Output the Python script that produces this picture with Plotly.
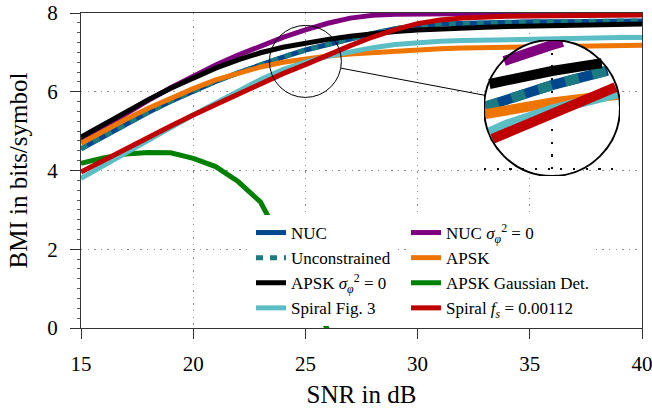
import numpy as np
import plotly.graph_objects as go

# ---------------- data ----------------
snr = list(range(15, 41))
nuc = [4.55, 4.87, 5.18, 5.48, 5.76, 6.02, 6.26, 6.48, 6.69, 6.88, 7.06, 7.21, 7.35,
       7.48, 7.60, 7.68, 7.72, 7.74, 7.755, 7.765, 7.775, 7.78, 7.785, 7.79, 7.795, 7.80]
unconstrained = list(nuc)
nuc_ideal = [4.75, 5.10, 5.45, 5.78, 6.10, 6.40, 6.68, 6.93, 7.16, 7.38, 7.57, 7.74, 7.87,
             7.94, 7.97, 7.98, 7.985, 7.985, 7.985, 7.985, 7.985, 7.985, 7.985, 7.985, 7.985, 7.985]
apsk_ideal = [4.85, 5.17, 5.49, 5.80, 6.09, 6.36, 6.60, 6.81, 6.99, 7.13, 7.24, 7.33, 7.41,
              7.48, 7.53, 7.57, 7.60, 7.62, 7.64, 7.655, 7.67, 7.68, 7.69, 7.70, 7.71, 7.72]
apsk = [4.69, 5.00, 5.30, 5.58, 5.84, 6.08, 6.30, 6.48, 6.63, 6.75, 6.84, 6.91, 6.96,
        7.00, 7.04, 7.07, 7.09, 7.11, 7.12, 7.13, 7.14, 7.15, 7.16, 7.17, 7.175, 7.18]
spiral3 = [3.80, 4.13, 4.46, 4.78, 5.09, 5.41, 5.72, 6.02, 6.31, 6.56, 6.75, 6.90, 7.02,
           7.12, 7.20, 7.25, 7.28, 7.30, 7.315, 7.33, 7.34, 7.35, 7.36, 7.37, 7.375, 7.38]
spiral_fs = [3.96, 4.26, 4.55, 4.84, 5.13, 5.41, 5.68, 5.95, 6.21, 6.46, 6.69, 6.94, 7.17,
             7.39, 7.58, 7.73, 7.82, 7.87, 7.90, 7.915, 7.925, 7.93, 7.935, 7.94, 7.945, 7.95]
snr_gauss = list(range(15, 27))
apsk_gauss = [4.18, 4.32, 4.42, 4.46, 4.45, 4.31, 4.10, 3.72, 3.20, 2.15, 1.05, -0.05]

x_ticks = [15, 20, 25, 30, 35, 40]
y_ticks = [0, 2, 4, 6, 8]

# ---------------- styles ----------------
W, H = 652, 412
ML, MR, MT, MB = 81, 10, 13, 84
PW, PH = W - ML - MR, H - MT - MB
XR, YR = (15, 40), (0, 8)
SX = PW / (XR[1] - XR[0])
SY = PH / (YR[1] - YR[0])

FONT = "Liberation Serif"
LW = 5
MAG = 2.0
ZC = (25.0, 6.77)          # spy centre in data units
R_MAIN = 36                # px radius of spy circle
INSET_C = (552, 108)       # px centre of magnified circle
R_IN = 68                  # px radius of magnified circle

series = [
    ("NUC", snr, nuc, "#00478D", "solid", 1),
    ("NUC <i>σ</i><sub><i>φ</i></sub><sup>2</sup> = 0", snr, nuc_ideal, "#7F007F", "solid", 2),
    ("Unconstrained", snr, unconstrained, "#1B7B80", "dash", 1),
    ("APSK", snr, apsk, "#EE7600", "solid", 2),
    ("APSK <i>σ</i><sub><i>φ</i></sub><sup>2</sup> = 0", snr, apsk_ideal, "#000000", "solid", 1),
    ("APSK Gaussian Det.", snr_gauss, apsk_gauss, "#008000", "solid", 2),
    ("Spiral Fig. 3", snr, spiral3, "#5BBEC4", "solid", 1),
    ("Spiral <i>f<sub>s</sub></i> = 0.00112", snr, spiral_fs, "#C00000", "solid", 2),
]

fig = go.Figure()


def clip_circle(xs, ys, cx, cy, R, sx, sy):
    """Clip a polyline (data units) to a circle of radius R px around (cx, cy)."""
    px = [((x - cx) * sx, (y - cy) * sy) for x, y in zip(xs, ys)]
    ox, oy = [], []
    last_end = None
    for (x0, y0), (x1, y1) in zip(px[:-1], px[1:]):
        dx, dy = x1 - x0, y1 - y0
        a = dx * dx + dy * dy
        b = 2 * (x0 * dx + y0 * dy)
        c = x0 * x0 + y0 * y0 - R * R
        disc = b * b - 4 * a * c
        if a == 0 or disc <= 0:
            continue
        s = np.sqrt(disc)
        t0 = max(0.0, (-b - s) / (2 * a))
        t1 = min(1.0, (-b + s) / (2 * a))
        if t0 >= t1:
            continue
        p0 = (x0 + t0 * dx, y0 + t0 * dy)
        p1 = (x0 + t1 * dx, y0 + t1 * dy)
        if last_end is None or abs(last_end[0] - p0[0]) > 1e-6:
            if ox:
                ox.append(None); oy.append(None)
            ox.append(p0[0] / sx + cx); oy.append(p0[1] / sy + cy)
        ox.append(p1[0] / sx + cx); oy.append(p1[1] / sy + cy)
        last_end = p1
    return ox, oy


dash_main = "7px,7px"
dash_in = "14px,14px"

# main traces
for name, xs, ys, col, dash, leg in series:
    fig.add_trace(go.Scatter(
        x=xs, y=ys, mode="lines", name=name,
        line=dict(color=col, width=LW, dash=dash_main if dash == "dash" else "solid"),
        legend="legend" if leg == 1 else "legend2",
        legendgroup=name, xaxis="x", yaxis="y", hoverinfo="skip"))

# inset (magnified) traces
for name, xs, ys, col, dash, leg in series:
    cx_, cy_ = clip_circle(xs, ys, ZC[0], ZC[1], R_IN - 1, SX * MAG, SY * MAG)
    if not cx_:
        continue
    fig.add_trace(go.Scatter(
        x=cx_, y=cy_, mode="lines", showlegend=False,
        line=dict(color=col, width=LW * MAG, dash=dash_in if dash == "dash" else "solid"),
        xaxis="x2", yaxis="y2", hoverinfo="skip"))

# inset axes geometry
hx = R_IN / (SX * MAG)
hy = R_IN / (SY * MAG)
dx0 = (INSET_C[0] - R_IN - ML) / PW
dx1 = (INSET_C[0] + R_IN - ML) / PW
dy0 = (H - MB - (INSET_C[1] + R_IN)) / PH
dy1 = (H - MB - (INSET_C[1] - R_IN)) / PH

grid_col = "#8a8a8a"
tick_font = dict(family=FONT, size=21, color="black")
title_font = dict(family=FONT, size=25, color="black")
leg_font = dict(family=FONT, size=17, color="black")

fig.update_layout(
    width=W, height=H,
    margin=dict(l=ML, r=MR, t=MT, b=MB, autoexpand=False),
    paper_bgcolor="white", plot_bgcolor="rgba(0,0,0,0)",
    font=dict(family=FONT, color="black"),
    xaxis=dict(range=list(XR), tickvals=x_ticks, ticks="outside", ticklen=10,
               tickwidth=1, tickcolor="#333", showline=True, linecolor="#333",
               linewidth=1.3, mirror=True, showgrid=True, gridcolor=grid_col,
               griddash="1.3px,5.3px", gridwidth=1, zeroline=False, automargin=False,
               tickfont=tick_font, ticklabelstandoff=7, ticklabeloverflow="allow",
               title=dict(text="SNR in dB", font=title_font, standoff=10)),
    yaxis=dict(range=list(YR), tickvals=y_ticks, ticks="outside", ticklen=10,
               tickwidth=1, tickcolor="#333", showline=True, linecolor="#333",
               linewidth=1.3, mirror=True, showgrid=True, gridcolor=grid_col,
               griddash="1.3px,5.3px", gridwidth=1, zeroline=False, automargin=False,
               tickfont=tick_font, ticklabelstandoff=8, ticklabeloverflow="allow",
               minor=dict(ticks="outside", ticklen=3, dtick=0.25, tickcolor="#555",
                          showgrid=False),
               title=dict(text="BMI in bits/symbol", font=title_font, standoff=12)),
    xaxis2=dict(domain=[dx0, dx1], range=[ZC[0] - hx, ZC[0] + hx], anchor="y2",
                visible=True, showticklabels=False, ticks="", showline=False,
                tickvals=x_ticks, showgrid=True, gridcolor="#111", automargin=False,
                griddash="2.2px,10.5px", gridwidth=2.2, zeroline=False),
    yaxis2=dict(domain=[dy0, dy1], range=[ZC[1] - hy, ZC[1] + hy], anchor="x2",
                visible=True, showticklabels=False, ticks="", showline=False,
                tickvals=y_ticks, showgrid=True, gridcolor="#111", automargin=False,
                griddash="2.2px,10.5px", gridwidth=2.2, zeroline=False),
    legend=dict(x=(251 - ML) / PW, y=(H - MB - 215) / PH, xanchor="left", yanchor="top",
                bgcolor="white", borderwidth=0, font=leg_font,
                tracegroupgap=0, itemwidth=30),
    legend2=dict(x=(406 - ML) / PW, y=(H - MB - 215) / PH, xanchor="left", yanchor="top",
                 bgcolor="white", borderwidth=0, font=leg_font,
                 tracegroupgap=0, itemwidth=30),
    showlegend=True,
)

# white disc of the magnified view (drawn in the inset subplot's lower shape layer)
fig.add_shape(type="circle", xref="x2", yref="y2",
              x0=ZC[0] - hx, x1=ZC[0] + hx, y0=ZC[1] - hy, y1=ZC[1] + hy,
              fillcolor="white", line=dict(width=0), layer="below")
# outline of the magnified view
fig.add_shape(type="circle", xref="x2", yref="y2",
              x0=ZC[0] - hx, x1=ZC[0] + hx, y0=ZC[1] - hy, y1=ZC[1] + hy,
              fillcolor="rgba(0,0,0,0)", line=dict(width=2, color="black"), layer="above")
# spy circle in the main plot
rmx, rmy = R_MAIN / SX, R_MAIN / SY
fig.add_shape(type="circle", xref="x", yref="y",
              x0=ZC[0] - rmx, x1=ZC[0] + rmx, y0=ZC[1] - rmy, y1=ZC[1] + rmy,
              fillcolor="rgba(0,0,0,0)", line=dict(width=1, color="black"), layer="above")
# connector between the circles
mcx, mcy = ML + (ZC[0] - XR[0]) * SX, MT + (YR[1] - ZC[1]) * SY
vx, vy = INSET_C[0] - mcx, INSET_C[1] - mcy
nrm = np.hypot(vx, vy)
ux, uy = vx / nrm, vy / nrm
p0 = (mcx + R_MAIN * ux, mcy + R_MAIN * uy)
p1 = (INSET_C[0] - R_IN * ux, INSET_C[1] - R_IN * uy)
fig.add_shape(type="line", xref="paper", yref="paper",
              x0=(p0[0] - ML) / PW, y0=(H - MB - p0[1]) / PH,
              x1=(p1[0] - ML) / PW, y1=(H - MB - p1[1]) / PH,
              line=dict(width=1, color="black"), layer="above")

fig.write_html("out.html")
